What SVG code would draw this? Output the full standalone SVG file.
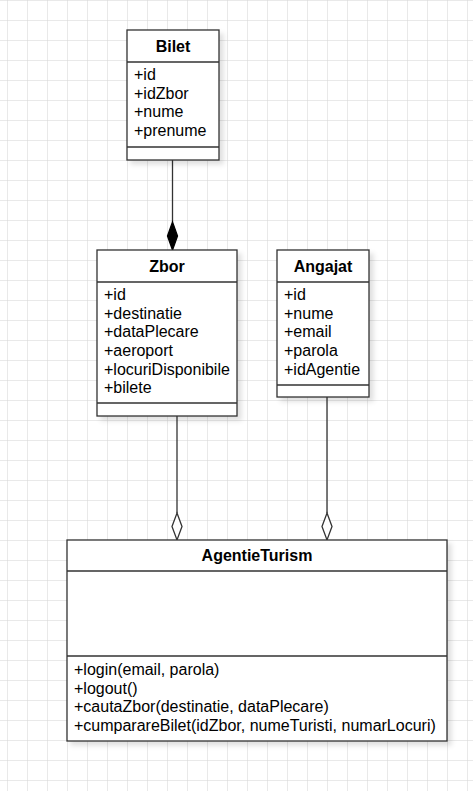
<svg xmlns="http://www.w3.org/2000/svg" width="473" height="791" viewBox="0 0 473 791">
<defs>
<pattern id="grid" x="7" y="0" width="20" height="20" patternUnits="userSpaceOnUse">
<path d="M0 0V20M0 0H20" fill="none" stroke="#d4d4d4" stroke-width="1"/>
</pattern>
<filter id="sh" x="-10%" y="-10%" width="130%" height="130%">
<feDropShadow dx="4" dy="4" stdDeviation="2.5" flood-color="#000" flood-opacity="0.12"/>
</filter>
</defs>
<style>
.box{fill:#fff;stroke:#333;stroke-width:1.3}
.ln{stroke:#333;stroke-width:1.3;fill:none}
.t{font-family:"Liberation Sans",Arial,sans-serif;font-size:16px;fill:#000}
.h{font-family:"Liberation Sans",Arial,sans-serif;font-size:16px;font-weight:bold;fill:#000;text-anchor:middle}
</style>
<rect width="473" height="791" fill="#fff"/>
<rect width="473" height="791" fill="url(#grid)"/>
<g id="connectors">
<path class="ln" d="M172.5 160V222"/>
<path d="M172.5 222L177.5 236L172.5 250L167.5 236Z" fill="#000" stroke="#000" stroke-width="1.3"/>
<path class="ln" d="M177 416V513"/>
<path d="M177 513L182 526.5L177 540L172 526.5Z" fill="#fff" stroke="#333" stroke-width="1.3"/>
<path class="ln" d="M327 397V513"/>
<path d="M327 513L332 526.5L327 540L322 526.5Z" fill="#fff" stroke="#333" stroke-width="1.3"/>
</g>
<g id="Bilet">
<rect class="box" x="127" y="30" width="92" height="130" filter="url(#sh)"/>
<path class="ln" d="M127 62H219M127 147H219"/>
<text class="h" x="173" y="51.5">Bilet</text>
<text class="t" x="134" y="80">+id</text>
<text class="t" x="134" y="98.7">+idZbor</text>
<text class="t" x="134" y="117.3">+nume</text>
<text class="t" x="134" y="136">+prenume</text>
</g>
<g id="Zbor">
<rect class="box" x="97" y="250" width="140" height="166" filter="url(#sh)"/>
<path class="ln" d="M97 282H237M97 403H237"/>
<text class="h" x="167" y="271.5">Zbor</text>
<text class="t" x="104" y="300">+id</text>
<text class="t" x="104" y="318.7">+destinatie</text>
<text class="t" x="104" y="337.3">+dataPlecare</text>
<text class="t" x="104" y="356">+aeroport</text>
<text class="t" x="104" y="374.7">+locuriDisponibile</text>
<text class="t" x="104" y="393.3">+bilete</text>
</g>
<g id="Angajat">
<rect class="box" x="277" y="250" width="92" height="147" filter="url(#sh)"/>
<path class="ln" d="M277 282H369M277 385H369"/>
<text class="h" x="323" y="271.5">Angajat</text>
<text class="t" x="284" y="300">+id</text>
<text class="t" x="284" y="318.7">+nume</text>
<text class="t" x="284" y="337.3">+email</text>
<text class="t" x="284" y="356">+parola</text>
<text class="t" x="284" y="374.7">+idAgentie</text>
</g>
<g id="AgentieTurism">
<rect class="box" x="67" y="540" width="380" height="201" filter="url(#sh)"/>
<path class="ln" d="M67 571H447M67 656H447"/>
<text class="h" x="257" y="561">AgentieTurism</text>
<text class="t" x="74" y="675">+login(email, parola)</text>
<text class="t" x="74" y="693.7">+logout()</text>
<text class="t" x="74" y="712.3">+cautaZbor(destinatie, dataPlecare)</text>
<text class="t" x="74" y="731">+cumparareBilet(idZbor, numeTuristi, numarLocuri)</text>
</g>
</svg>
